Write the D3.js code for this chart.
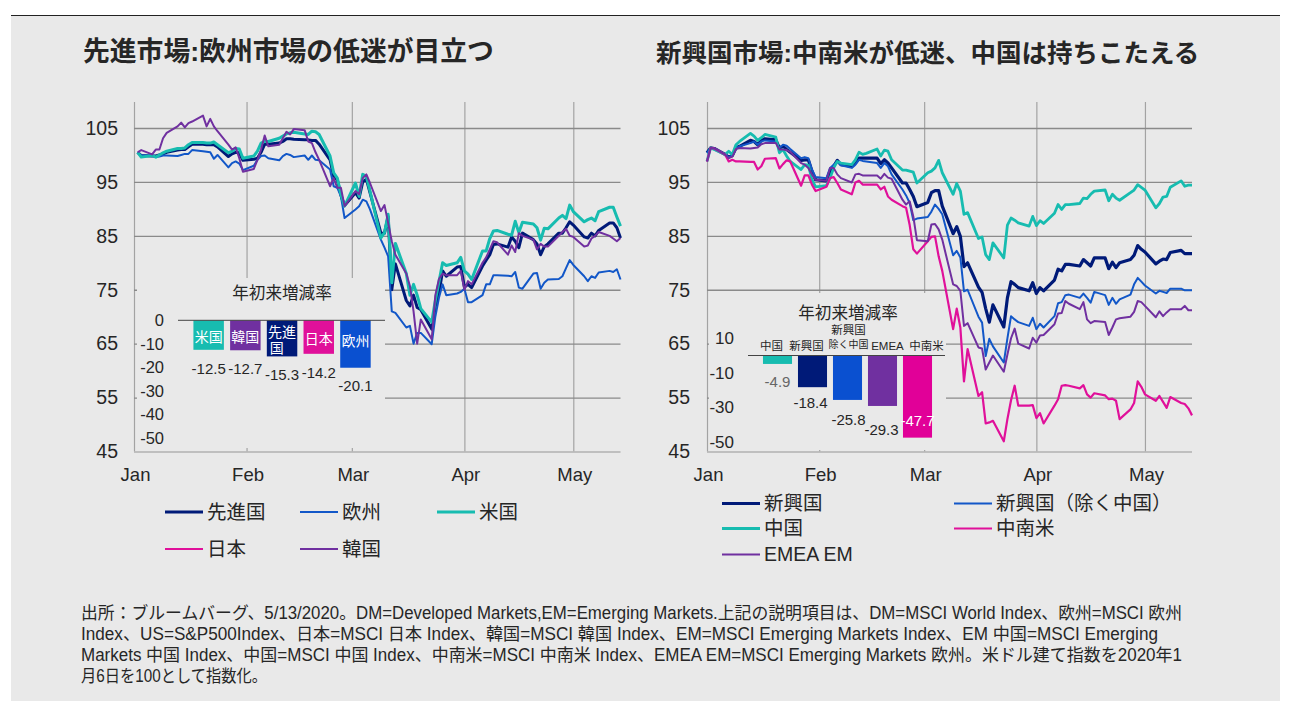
<!DOCTYPE html>
<html>
<head>
<meta charset="utf-8">
<script src="https://cdn.jsdelivr.net/npm/d3@7"></script>
<style>
  body { margin: 0; background: #fff; }
  text { font-family: "Liberation Sans", "Noto Sans CJK JP", sans-serif; fill: #262626; }
</style>
</head>
<body>
<svg id="chart" width="1295" height="720"></svg>
<script>
// left panel, daily closes from Jan 2 (日本 has no visible line in the picture, only its legend entry)
const dmWorld = [
  100.5,99.9,99.8,99.8,100,100.2,100.5,100.9,101,101,101.5,102,102,101.9,101.9,101.9,101.5,99.7,100.2,100.5,100.4,99,
  99.2,99.4,100.5,102,102,102.2,102.5,103,103,102.9,102.8,102.8,102.7,102.7,102,99.1,96,95.4,92.5,90.6,
  93,92,95,95.5,93,85.5,85.5,88.6,75,79.8,73,72,74,71.7,71.3,67.7,72,74.5,78.5,77.5,79.2,79.3,
  75.5,76,75.4,79.4,80.5,81.5,83.4,83.5,82.9,84.8,84,82.8,85.5,84.3,83.5,81.5,83,83.5,85.5,85.5,86.5,87.6,
  87,84.8,84.6,85.5,85,86,87.4,87.4,86.5,84.6]
const dmEurope = [
  100.5,99.9,99.9,99.6,99.7,99.9,99.9,99.8,100,100.2,100.2,100.9,100.7,100.6,100.5,99.3,100,97.7,98.5,98.8,98.4,97.2,
  98,99.1,99.8,99.9,99.4,99,99.8,100.2,100,99.6,99.9,99.1,99.9,99.1,99,97.3,94.2,93.9,92.3,88.3,
  89.9,90.5,91.7,91.4,89.9,84.3,82.8,81.2,71,70.7,68,68.3,65,67,67,64.9,70,73.5,76,74,74.3,74.6,
  75.2,72.7,72.7,74,76,76,77.7,77.7,77.6,77.5,78.3,75.4,75.2,78,78.1,75.2,76.3,76.9,77,77.5,79,80.5,
  79.6,77.5,76.6,77.5,77.2,78.2,78.5,78.3,78.8,76.9]
const dmUsa = [
  100.5,99.6,99.9,99.6,100,100.4,100.7,101.2,101.2,101.3,101.9,102.3,102.3,102.2,102.2,102.4,101.9,100.4,100.7,101.2,101.1,99.4,
  99.8,100.7,102.2,102.5,102.5,103.1,103.5,103.9,104.1,104.2,103.9,103.8,104.4,104.3,103.8,99.8,96.7,95.7,92.7,90.5,
  94.8,92.3,96.4,96,93.3,84.6,85.6,89,76.3,83.6,78,74,76,74,71.5,69,73,76.5,80,79.5,80,81,
  78.5,77.9,76.9,82.2,82.2,84.5,85.9,86,85.3,85.1,87.7,85.6,87.5,87.2,86.5,84.2,86.4,86.3,88.3,88.8,88.2,90.7,
  89.5,87.6,88,88.3,87.8,89.5,90.3,90.3,88.5,86.8]
const dmKorea = [
  100.5,100.9,100.1,101,101,103.1,104.1,105.3,106,105.1,105.9,106.2,107.3,105.3,106.7,105.3,104.4,101.9,101,101.4,99.4,96.9,
  97.4,99.1,101,103.6,101.6,101.9,103.1,104.3,103.8,104.8,104.6,102.5,102.2,100.5,99.1,94.2,95.7,93.9,93.9,90.5,
  93.3,92.7,95.7,96.4,94.8,89.6,90.7,87.4,84,81.5,78,75.7,71,65,69.5,65.8,74,77,78,77.7,77.7,78.5,
  75,76.6,76,80,81,82.5,84,83.8,81.5,83.2,82,85.5,85,84.3,82.5,83.5,83,83,85,85.7,86.3,85,
  84.8,83,83.2,84.5,85,85.7,85,84.5,84,84.6]

// right panel, daily closes from Jan 1
const emAll = [
  100.4,101.3,101.2,100.1,99.6,99.9,101.3,101.6,102.7,102.5,101.9,102.7,103,102.8,101.3,101.6,101,100.5,99,99.1,99.1,97,95.4,
  95.2,97,97.9,99,98.2,97.9,98.5,99.4,99.4,99.4,99.4,98.4,99.1,98.5,97.6,94.8,94.8,93.6,92.3,90.4,
  91.2,93,93.4,93.4,90.5,85.4,86.7,84.9,79.3,80,75.5,74.5,71.5,69,72.2,68.1,73.5,76.5,76,75.4,74.8,76.3,
  74.3,75.4,74.8,76.8,78.8,78.5,79.7,79.7,79.4,80.6,80,79.4,80.9,80.9,78.9,80.1,79.1,80,80.6,81.4,83.2,82.5,
  82,79.8,80.3,80.7,80.6,81.9,82.3,81.7,81.7,81.7]
const emExChina = [
  100.4,101.3,101.2,100.1,99.6,99.9,101.3,101.6,102.2,102.5,101.9,102.5,102.7,102.5,101.3,101.9,101.7,101.1,99.4,99.6,99.4,97.3,95.9,
  95.7,97.6,98.2,98.8,98.1,97.6,98.2,99.1,98.9,98.8,98.5,97.6,98.5,97.9,96.4,93.6,92.5,91.1,87.9,88.2,
  88.5,89.5,90.8,90,89,81.4,82.2,81,74.7,75,70,68.9,62.7,65.9,64.5,61.5,66,70.1,69.5,69,68.3,69.8,
  67.7,68.7,68,70.1,72.5,72.7,74,74.1,73.5,74.3,73.5,72.6,74.6,74,72.2,73.5,72.4,73.2,74.1,76,77.2,76.5,
  75.8,74.3,74.8,74.6,74.4,75.2,75.2,74.9,74.9,74.9]
const emChina = [
  98.8,101.3,101,100.1,100.7,100.1,101.9,102.5,104,103.5,102.7,103.2,103.8,103.3,100.4,101,99.8,98.8,97.3,98.2,98.1,95.4,94.1,
  94.3,95.7,97.6,98.8,98.5,98.2,99.1,100.5,100.1,100.3,101.1,99.8,100.9,100.7,99.1,97.2,97.2,97,96.8,94.8,
  96.7,97,97.6,99,96.7,92.7,94.7,93.3,89,89.3,84.5,84.8,81.5,80.6,83.7,80.9,87,88.3,87.9,87.4,86.8,88.6,
  86.9,87.8,87.3,89.2,90.8,89.9,90.8,90.8,91,92,91.9,92.7,93.3,93.5,91.5,92.7,92,91.6,93,93.5,94.5,94,
  93.5,90.2,91,92.2,92.3,94,95.2,94.2,94.4,94.4]
const emLatam = [
  98.8,101.3,101.2,100.1,98.8,99.1,98.8,98.8,98.7,98.7,97.3,97.9,99.3,99.4,97.5,98.3,99,98.8,94.3,96.2,96.2,94.5,93.3,
  94.1,95.7,95.9,94.8,93.6,92.7,94.9,95.2,94.5,94.5,94.5,93.6,94.1,92.3,91.7,90.5,90.2,87,82.5,81.7,
  84,84.8,84.9,81.2,78.5,67.7,71.5,68,58,64,55.3,56,50.2,50.4,50.7,46.9,51,54.5,57.2,53.5,53.5,53.6,
  51.2,52.1,50.2,53.5,54.7,57.2,57.3,57.2,56.7,57.3,55.6,55,55.8,55.4,54.7,54.8,54.4,51,52.8,54,58,57,
  55.6,54.4,55.3,54.2,53.1,55.1,54,53.8,53,51.7]
const emEmea = [
  98.8,101.3,101.2,100.1,99.4,99.7,101.1,101.3,101.2,101.3,101.4,102,102.2,102.2,101,101,100.9,100.6,98.5,98.2,97.6,96.4,95.4,
  95.2,97.6,97.6,96.4,95.7,94.9,96.4,96.5,96.2,96.2,96.2,95.6,96.5,95.8,95.6,91.7,90.8,91.4,88.6,84.2,
  84,87.1,87.2,86.2,84.3,76,75.7,74.8,68.3,68.8,64.3,64.1,60.2,61.5,62.8,59.8,63,66,67.8,65,64.1,66.1,
  65.2,66.5,66.6,68.6,70.6,70.7,72.9,72.4,71.4,72.7,69.5,68.8,69.2,69,66.6,68,69.5,69.7,70,70.9,72.9,72.7,
  72,69.9,71,70.1,70.8,71.4,71.4,72,71.2,71.2]

// year-to-date insets
const leftBarNames = ['米国', '韓国', '先進国', '日本', '欧州']
const leftBarValues = [-12.5, -12.7, -15.3, -14.2, -20.1]
const rightBarNames = ['中国', '新興国', '新興国除く中国', 'EMEA', '中南米']
const rightBarValues = [-4.9, -18.4, -25.8, -29.3, -47.7]
const leftInsetTicks = [0, -10, -20, -30, -40, -50]
const rightInsetTicks = [10, -10, -30, -50]
const yTicks = [105, 95, 85, 75, 65, 55, 45]

const NAVY = '#001a78', BLUE = '#1257c8', TEAL = '#17bcb0', PINK = '#e0109a', PURPLE = '#7030a0'

const footnote = [
  '出所：ブルームバーグ、5/13/2020。DM=Developed Markets,EM=Emerging Markets.上記の説明項目は、DM=MSCI World Index、欧州=MSCI 欧州',
  'Index、US=S&P500Index、日本=MSCI 日本 Index、韓国=MSCI 韓国 Index、EM=MSCI Emerging Markets Index、EM 中国=MSCI Emerging',
  'Markets 中国 Index、中国=MSCI 中国 Index、中南米=MSCI 中南米 Index、EMEA EM=MSCI Emerging Markets 欧州。米ドル建て指数を2020年1',
  '月6日を100として指数化。'
]
const footnoteWidths = [1101, 1077, 1101, 186]

const svg = d3.select('#chart')

svg.append('rect').attr('x', 11).attr('y', 16).attr('width', 1269).attr('height', 685).attr('fill', '#e9e9e9')
svg.append('line').attr('x1', 11).attr('x2', 1280).attr('y1', 15.5).attr('y2', 15.5).attr('stroke', '#222').attr('stroke-width', 1)

const start = new Date(Date.UTC(2020, 0, 1))
const end = new Date(Date.UTC(2020, 4, 14))
const weekdays = d3.utcDay.range(start, d3.utcDay.offset(end, 1)).filter(d => d.getUTCDay() % 6 !== 0)

const y = d3.scaleLinear().domain([45, 105]).range([451.5, 128])

function panel(x0, x1, labelPad, mask, series, dates) {
  const x = d3.scaleUtc().domain([start, end]).range([x0, x1])
  const g = svg.append('g')

  const vGrid = g.append('g').attr('transform', 'translate(0,451.5)')
    .call(d3.axisBottom(x).ticks(d3.utcMonth.every(1)).tickSize(-349.5).tickFormat(d3.utcFormat('%b')))
  vGrid.select('.domain').remove()
  vGrid.selectAll('line').attr('stroke', '#a3a3a3').attr('stroke-width', 1.2)
  vGrid.selectAll('text').attr('y', 16).attr('dy', '0.71em').attr('font-size', 18.5).attr('dx', 1)

  const hGrid = g.append('g').attr('transform', `translate(${x0},0)`)
    .call(d3.axisLeft(y).tickValues(yTicks).tickSize(x0 - x1).tickPadding(labelPad))
  hGrid.select('.domain').remove()
  hGrid.selectAll('line').attr('stroke', d => d === 45 ? '#b0b0b0' : '#8a8a8a').attr('stroke-width', 1.3)
  hGrid.selectAll('text').attr('font-size', 19.5)

  // the inset sits on its own patch of background, cutting the grid
  g.append('rect').attr('x', mask[0]).attr('y', mask[1]).attr('width', mask[2]).attr('height', mask[3]).attr('fill', '#e9e9e9')

  const line = d3.line().x((d, i) => x(dates[i])).y(d => y(d)).curve(d3.curveLinear)
  g.selectAll('path.series')
    .data(series)
    .join('path')
    .attr('class', 'series')
    .attr('fill', 'none')
    .attr('stroke', d => d.color)
    .attr('stroke-width', d => d.width)
    .attr('stroke-linejoin', 'round')
    .attr('d', d => line(d.values))
}

panel(134, 620.5, 16, [137, 278, 248, 170], [
  { values: dmWorld, color: NAVY, width: 3 },
  { values: dmEurope, color: BLUE, width: 2 },
  { values: dmUsa, color: TEAL, width: 3 },
  { values: dmKorea, color: PURPLE, width: 2 }
], weekdays.slice(1))

panel(707, 1192, 17, [709, 293, 237, 157], [
  { values: emAll, color: NAVY, width: 3.2 },
  { values: emExChina, color: BLUE, width: 2 },
  { values: emChina, color: TEAL, width: 2.8 },
  { values: emLatam, color: PINK, width: 2.2 },
  { values: emEmea, color: PURPLE, width: 2 }
], weekdays)

// panel titles
svg.append('text').attr('x', 83).attr('y', 61).attr('font-size', 26.8).attr('font-weight', 700)
  .text('先進市場:欧州市場の低迷が目立つ')
svg.append('text').attr('x', 656).attr('y', 62).attr('font-size', 25.5).attr('font-weight', 700)
  .text('新興国市場:中南米が低迷、中国は持ちこたえる')

// left inset
const leftBarX = d3.scaleBand().domain(leftBarNames).range([190.3, 373.8]).paddingInner(0.17).paddingOuter(0.085)
const leftBarY = d3.scaleLinear().domain([0, -50]).range([320.3, 438.3])
const leftColors = [TEAL, PURPLE, NAVY, PINK, '#0a50d0']
const leftInset = svg.append('g')
leftInset.append('text').attr('x', 282).attr('y', 299).attr('text-anchor', 'middle').attr('font-size', 16.6).text('年初来増減率')
leftInset.selectAll('rect').data(leftBarValues).join('rect')
  .attr('x', (d, i) => leftBarX(leftBarNames[i]))
  .attr('y', leftBarY(0))
  .attr('width', leftBarX.bandwidth())
  .attr('height', d => leftBarY(d) - leftBarY(0))
  .attr('fill', (d, i) => leftColors[i])
leftInset.append('line').attr('x1', 178).attr('x2', 385).attr('y1', 320.3).attr('y2', 320.3).attr('stroke', '#444').attr('stroke-width', 1)
leftInset.selectAll('text.tick').data(leftInsetTicks).join('text')
  .attr('class', 'tick')
  .attr('x', 164).attr('y', d => leftBarY(d)).attr('dy', '0.35em').attr('text-anchor', 'end').attr('font-size', 16.5)
  .text(d => d)
leftInset.selectAll('text.val').data(leftBarValues).join('text')
  .attr('class', 'val')
  .attr('x', (d, i) => leftBarX(leftBarNames[i]) + leftBarX.bandwidth() / 2)
  .attr('y', d => leftBarY(d) + 18.5).attr('dy', '0.35em').attr('text-anchor', 'middle').attr('font-size', 15)
  .text(d => d)
leftInset.selectAll('text.name').data(leftBarNames).join('text')
  .attr('class', 'name')
  .attr('x', d => leftBarX(d) + leftBarX.bandwidth() / 2)
  .attr('y', (d, i) => i === 2 ? 332 : 337 + (i > 2 ? 2 : 0) + (i === 4 ? 2 : 0))
  .attr('dy', '0.35em').attr('text-anchor', 'middle').attr('font-size', 14)
  .style('fill', '#fff')
  .each(function (d) {
    const t = d3.select(this)
    if (d === '先進国') {
      t.append('tspan').text('先進')
      t.append('tspan').attr('x', leftBarX(d) + 10).attr('dy', '1.15em').text('国')
    } else {
      t.text(d)
    }
  })

// right inset
const rightBarX = d3.scaleBand().domain(rightBarNames).range([760, 935]).paddingInner(0.17).paddingOuter(0.085)
const rightBarY = d3.scaleLinear().domain([0, -50]).range([355.5, 441.6])
const rightColors = [TEAL, NAVY, '#0a50d0', PURPLE, '#e10098']
const rightValueDy = [18, 15.5, 20, 24, -17]
const rightValueDx = [0, -2, 1, -1, 0]
const rightNameDx = [-6, -6, 1, 5, 9]
const rightInset = svg.append('g')
rightInset.append('text').attr('x', 848).attr('y', 319).attr('text-anchor', 'middle').attr('font-size', 16.6).text('年初来増減率')
rightInset.selectAll('rect').data(rightBarValues).join('rect')
  .attr('x', (d, i) => rightBarX(rightBarNames[i]))
  .attr('y', rightBarY(0))
  .attr('width', rightBarX.bandwidth())
  .attr('height', d => rightBarY(d) - rightBarY(0))
  .attr('fill', (d, i) => rightColors[i])
rightInset.append('line').attr('x1', 748).attr('x2', 945).attr('y1', 355.5).attr('y2', 355.5).attr('stroke', '#444').attr('stroke-width', 1)
rightInset.selectAll('text.tick').data(rightInsetTicks).join('text')
  .attr('class', 'tick')
  .attr('x', 734).attr('y', d => rightBarY(d)).attr('dy', '0.35em').attr('text-anchor', 'end').attr('font-size', 17)
  .text(d => d)
rightInset.selectAll('text.val').data(rightBarValues).join('text')
  .attr('class', 'val')
  .attr('x', (d, i) => rightBarX(rightBarNames[i]) + rightBarX.bandwidth() / 2 + rightValueDx[i])
  .attr('y', (d, i) => rightBarY(d) + rightValueDy[i]).attr('dy', '0.35em').attr('text-anchor', 'middle').attr('font-size', 15)
  .style('fill', (d, i) => i === 0 ? '#666' : i === 4 ? '#fff' : '#262626')
  .text(d => d)
rightInset.selectAll('text.name').data(rightBarNames).join('text')
  .attr('class', 'name')
  .attr('x', (d, i) => rightBarX(d) + rightBarX.bandwidth() / 2 + rightNameDx[i])
  .attr('y', 346).attr('dy', '0.35em').attr('text-anchor', 'middle').attr('font-size', 11.5)
  .each(function (d, i) {
    const t = d3.select(this)
    if (d === '新興国除く中国') {
      const cx = rightBarX(d) + rightBarX.bandwidth() / 2 + rightNameDx[i]
      t.append('tspan').attr('dy', '-1.05em').text('新興国')
      t.append('tspan').attr('x', cx).attr('dy', '1.4em').attr('font-size', 10).text('除く中国')
    } else {
      t.text(d)
    }
  })

// legends
const legendItems = [
  { x: 165, y: 512, name: '先進国', color: NAVY, width: 3 },
  { x: 300, y: 512, name: '欧州', color: BLUE, width: 2 },
  { x: 437, y: 512, name: '米国', color: TEAL, width: 3 },
  { x: 165, y: 549, name: '日本', color: PINK, width: 2 },
  { x: 300, y: 549, name: '韓国', color: PURPLE, width: 2 },
  { x: 722, y: 503.5, name: '新興国', color: NAVY, width: 3.2 },
  { x: 954, y: 503.5, name: '新興国（除く中国）', color: BLUE, width: 2 },
  { x: 722, y: 528.5, name: '中国', color: TEAL, width: 2.8 },
  { x: 954, y: 528.5, name: '中南米', color: PINK, width: 2 },
  { x: 722, y: 554.5, name: 'EMEA EM', color: PURPLE, width: 2 }
]
const legend = svg.append('g').selectAll('g').data(legendItems).join('g')
  .attr('transform', d => `translate(${d.x},${d.y})`)
legend.append('line').attr('x2', 38).attr('stroke', d => d.color).attr('stroke-width', d => d.width)
legend.append('text').attr('x', 42).attr('dy', '0.35em').attr('font-size', 19.5).text(d => d.name)

// footnote
svg.append('g').selectAll('text').data(footnote).join('text')
  .attr('x', 81)
  .attr('y', (d, i) => 613 + i * 21)
  .attr('dy', '0.35em')
  .attr('font-size', 17.5)
  .attr('textLength', (d, i) => footnoteWidths[i])
  .attr('lengthAdjust', 'spacingAndGlyphs')
  .text(d => d)
</script>
</body>
</html>
